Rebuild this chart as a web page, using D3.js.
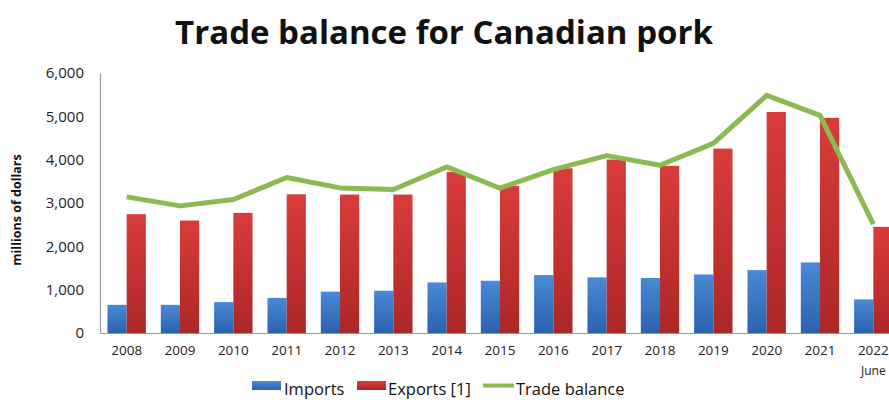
<!doctype html>
<html>
<head>
<style>
  body { margin: 0; background: #fff; }
  text { font-family: "Open Sans", "Liberation Sans", sans-serif; }
</style>
<script src="https://d3js.org/d3.v7.min.js"></script>
</head>
<body>
<svg width="889" height="400"></svg>
<script>
var years = ["2008","2009","2010","2011","2012","2013","2014","2015","2016","2017","2018","2019","2020","2021","2022"];
var imports = [650, 650, 714, 810, 955, 975, 1167, 1206, 1336, 1285, 1270, 1352, 1452, 1629, 776];
var exports = [2742, 2596, 2772, 3200, 3195, 3195, 3717, 3395, 3800, 4002, 3858, 4255, 5100, 4965, 2450];
var balance = [3141, 2934, 3080, 3587, 3349, 3310, 3832, 3341, 3770, 4094, 3871, 4375, 5484, 5023, 2512];
var yTicks = [0, 1000, 2000, 3000, 4000, 5000, 6000];

var svg = d3.select("svg");
var plotLeft = 100, plotRight = 900, plotTop = 73, plotBottom = 333;

var x = d3.scaleBand().domain(years).range([plotLeft, plotRight]).paddingInner(0).paddingOuter(0);
var y = d3.scaleLinear().domain([0, 6000]).range([plotBottom, plotTop]);

var defs = svg.append("defs");
function grad(id, c1, c2) {
  var g = defs.append("linearGradient").attr("id", id)
    .attr("x1", 0).attr("y1", 0).attr("x2", 0).attr("y2", 1);
  g.append("stop").attr("offset", "0%").attr("stop-color", c1);
  g.append("stop").attr("offset", "100%").attr("stop-color", c2);
}
grad("gBlue", "#4a8ad6", "#2a62ad");
grad("gRed", "#d93c3a", "#ad2626");

// title
var title = svg.append("text")
  .attr("x", 444).attr("y", 44)
  .attr("text-anchor", "middle")
  .attr("font-size", 33).attr("font-weight", "bold")
  .attr("fill", "#111")
  .text("Trade balance for Canadian pork");
var tw = title.node().getComputedTextLength();
if (tw > 540) title.attr("textLength", 537).attr("lengthAdjust", "spacingAndGlyphs");

// y axis
var yAxis = svg.append("g")
  .attr("transform", "translate(" + plotLeft + ",0)")
  .call(d3.axisLeft(y).tickValues(yTicks).tickSize(0).tickPadding(16).tickFormat(d3.format(",")));
yAxis.select(".domain").attr("stroke", "#999").attr("stroke-width", 1.2);
yAxis.selectAll("text").attr("font-size", 15).attr("fill", "#222")
  .style("font-family", "'Open Sans', sans-serif");

svg.append("text")
  .attr("transform", "translate(21,210) rotate(-90)")
  .attr("text-anchor", "middle")
  .attr("font-size", 12.5).attr("font-weight", "bold").attr("fill", "#111")
  .text("millions of dollars");

// x axis
var xAxis = svg.append("g")
  .attr("transform", "translate(0," + plotBottom + ")")
  .call(d3.axisBottom(x).tickSize(0).tickPadding(12));
xAxis.select(".domain").attr("stroke", "#999").attr("stroke-width", 1.2);
xAxis.selectAll("text").attr("font-size", 13.5).attr("fill", "#222")
  .style("font-family", "'Open Sans', sans-serif");

svg.append("text")
  .attr("x", x("2022") + x.bandwidth() / 2).attr("y", 375)
  .attr("text-anchor", "middle")
  .attr("font-size", 12).attr("fill", "#222")
  .text("June");

// bars
var bw = x.bandwidth() * 0.36;
var gap = (x.bandwidth() - 2 * bw) / 2;

svg.selectAll(".imp").data(years).enter().append("rect")
  .attr("class", "imp")
  .attr("x", function(d) { return x(d) + gap; })
  .attr("y", function(d, i) { return y(imports[i]); })
  .attr("width", bw)
  .attr("height", function(d, i) { return plotBottom - y(imports[i]); })
  .attr("fill", "url(#gBlue)");

svg.selectAll(".exp").data(years).enter().append("rect")
  .attr("class", "exp")
  .attr("x", function(d) { return x(d) + gap + bw; })
  .attr("y", function(d, i) { return y(exports[i]); })
  .attr("width", bw)
  .attr("height", function(d, i) { return plotBottom - y(exports[i]); })
  .attr("fill", "url(#gRed)");

// trade balance line
var line = d3.line()
  .x(function(d, i) { return x(years[i]) + x.bandwidth() / 2; })
  .y(function(d) { return y(d); });

svg.append("path")
  .datum(balance)
  .attr("d", line)
  .attr("fill", "none")
  .attr("stroke", "#8cb952")
  .attr("stroke-width", 5)
  .attr("stroke-linejoin", "round");

// legend
var lg = svg.append("g").attr("transform", "translate(0,389)");
lg.append("rect").attr("x", 252).attr("y", -8).attr("width", 29).attr("height", 9).attr("fill", "url(#gBlue)");
lg.append("text").attr("x", 284).attr("y", 5.5).attr("font-size", 16.5).attr("fill", "#111").text("Imports");
lg.append("rect").attr("x", 357).attr("y", -8).attr("width", 29).attr("height", 9).attr("fill", "url(#gRed)");
lg.append("text").attr("x", 388).attr("y", 5.5).attr("font-size", 16.5).attr("fill", "#111").text("Exports [1]");
lg.append("line").attr("x1", 483).attr("x2", 514).attr("y1", -3.5).attr("y2", -3.5)
  .attr("stroke", "#8cb952").attr("stroke-width", 4);
lg.append("text").attr("x", 516).attr("y", 5.5).attr("font-size", 16.5).attr("fill", "#111").text("Trade balance");
</script>
</body>
</html>
